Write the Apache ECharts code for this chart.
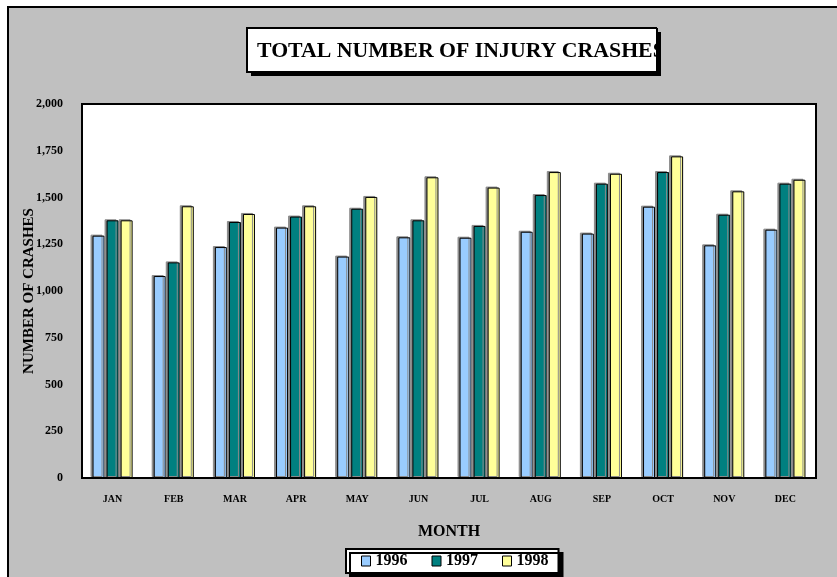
<!DOCTYPE html>
<html>
<head>
<meta charset="utf-8">
<script src="https://cdn.jsdelivr.net/npm/echarts@6/dist/echarts.min.js"></script>
<style>
  html, body { margin: 0; padding: 0; background: #fff; }
  #chart { width: 837px; height: 577px; }
</style>
</head>
<body>
<div id="chart"></div>
<script>
var months = ['JAN', 'FEB', 'MAR', 'APR', 'MAY', 'JUN', 'JUL', 'AUG', 'SEP', 'OCT', 'NOV', 'DEC'];
var years = ['1996', '1997', '1998'];
var crashes1996 = [1296, 1080, 1235, 1339, 1184, 1287, 1285, 1317, 1307, 1451, 1244, 1328];
var crashes1997 = [1378, 1153, 1369, 1398, 1440, 1378, 1348, 1513, 1574, 1636, 1408, 1574];
var crashes1998 = [1378, 1453, 1412, 1453, 1503, 1608, 1553, 1636, 1627, 1720, 1533, 1595];
var colors = ['#99CCFF', '#008080', '#FFFF99'];

var serif = '"Liberation Serif", "DejaVu Serif", serif';
var gray = '#C0C0C0';

function makeSeries(name, data, i) {
    return {
        name: name,
        type: 'bar',
        data: data,
        barWidth: 12,
        barGap: '17%',
        itemStyle: {
            color: colors[i],
            borderColor: '#000',
            borderWidth: 1,
            shadowColor: '#8a8a8a',
            shadowOffsetX: -2,
            shadowOffsetY: -1,
            shadowBlur: 0
        }
    };
}

var chart = echarts.init(document.getElementById('chart'));

var options = {
    animation: false,
    backgroundColor: '#fff',
    graphic: [
        // outer frame
        { type: 'rect', z: -10, shape: { x: 8, y: 7, width: 860, height: 600 },
          style: { fill: gray, stroke: '#000', lineWidth: 2 } },
        // title box with shadow
        { type: 'rect', z: 1, shape: { x: 251, y: 32, width: 410, height: 44 },
          style: { fill: '#000' } },
        { type: 'rect', z: 2, shape: { x: 247, y: 28, width: 410, height: 44 },
          style: { fill: '#fff', stroke: '#000', lineWidth: 2 } },
        { type: 'text', z: 3, x: 257, y: 51,
          style: { text: 'TOTAL NUMBER OF INJURY CRASHES', fill: '#000',
                   font: 'bold 21.8px ' + serif, verticalAlign: 'middle' } },
        // the text runs past the box edge, cover it like the original
        { type: 'rect', z: 4, shape: { x: 657, y: 15, width: 80, height: 75 },
          style: { fill: gray } },
        { type: 'rect', z: 5, shape: { x: 656, y: 28, width: 2, height: 44 },
          style: { fill: '#000' } },
        { type: 'rect', z: 5, shape: { x: 656, y: 32, width: 5, height: 44 },
          style: { fill: '#000' } }
    ],
    grid: {
        show: true,
        left: 82,
        right: 21,
        top: 104,
        bottom: 99,
        backgroundColor: '#fff',
        borderColor: '#000',
        borderWidth: 2
    },
    legend: {
        data: years,
        icon: 'rect',
        left: 346,
        top: 549,
        orient: 'horizontal',
        itemWidth: 9,
        itemHeight: 10,
        itemGap: 24,
        padding: [4, 10, 4, 15],
        backgroundColor: '#fff',
        borderColor: '#000',
        borderWidth: 2,
        shadowColor: '#000',
        shadowOffsetX: 4,
        shadowOffsetY: 4,
        shadowBlur: 0,
        itemStyle: { borderColor: '#000', borderWidth: 1, shadowBlur: 0, shadowOffsetX: 0, shadowOffsetY: 0, shadowColor: 'transparent' },
        textStyle: { fontFamily: serif, fontWeight: 'bold', fontSize: 16, color: '#000' }
    },
    xAxis: {
        type: 'category',
        data: months,
        name: 'MONTH',
        nameLocation: 'middle',
        nameGap: 46,
        nameTextStyle: { fontFamily: serif, fontWeight: 'bold', fontSize: 16, color: '#000' },
        axisLine: { show: false },
        axisTick: { show: false },
        axisLabel: { margin: 16, fontFamily: serif, fontWeight: 'bold', fontSize: 10, color: '#000' }
    },
    yAxis: {
        type: 'value',
        min: 0,
        max: 2000,
        interval: 250,
        name: 'NUMBER OF CRASHES',
        nameLocation: 'middle',
        nameRotate: 90,
        nameGap: 45,
        nameMoveOverlap: false,
        nameTextStyle: { fontFamily: serif, fontWeight: 'bold', fontSize: 15, color: '#000' },
        axisLine: { show: false },
        axisTick: { show: false },
        splitLine: { show: false },
        axisLabel: {
            margin: 19,
            fontFamily: serif,
            fontWeight: 'bold',
            fontSize: 12,
            color: '#000',
            formatter: function (v) { return v.toLocaleString('en-US'); }
        }
    },
    series: [
        makeSeries(years[0], crashes1996, 0),
        makeSeries(years[1], crashes1997, 1),
        makeSeries(years[2], crashes1998, 2)
    ]
};

chart.setOption(options);
</script>
</body>
</html>
